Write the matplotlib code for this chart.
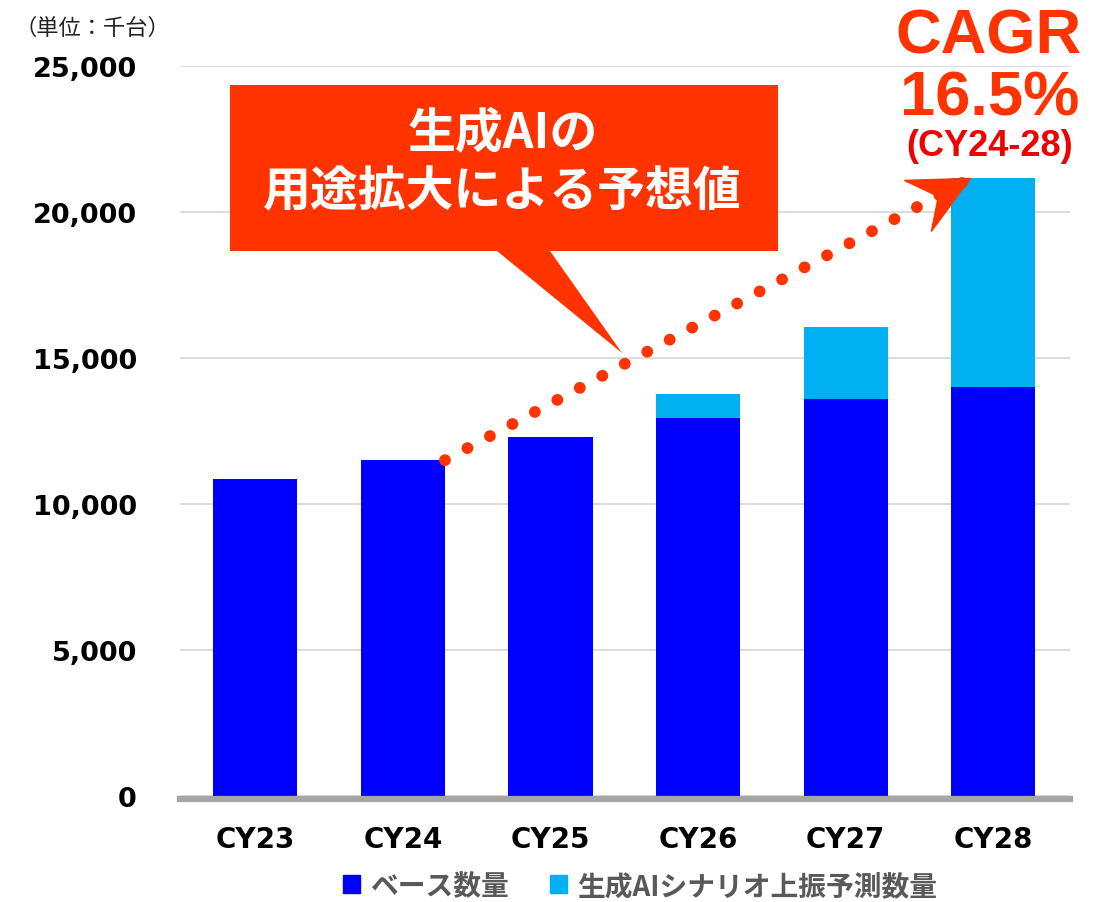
import numpy as np
import matplotlib
matplotlib.use('agg')
import matplotlib.pyplot as plt
from matplotlib.patches import Patch, Polygon
from matplotlib.font_manager import FontProperties

# data (千台)
years = ['CY23', 'CY24', 'CY25', 'CY26', 'CY27', 'CY28']
base = [10850, 11500, 12300, 12950, 13600, 14000]
upside = [0, 0, 0, 820, 2450, 7150]
yticks = [0, 5000, 10000, 15000, 20000, 25000]

BLUE = '#0000FF'
LIGHT = '#00B0F0'
RED = '#FF3300'
JP = 'Noto Sans CJK JP'

W, H = 1107, 903
fig = plt.figure(figsize=(W / 100, H / 100), dpi=100)
ax = fig.add_axes([180 / W, 1 - 797 / H, 890 / W, 730 / H])

x = np.arange(len(years))
bw = 0.57
total = np.array(base) + np.array(upside)
ax.bar(x, base, width=bw, color=BLUE, zorder=2)
ax.bar(x, upside, width=bw, bottom=base, color=LIGHT, zorder=2)

ax.set_xlim(-0.51, 5.52)
ax.set_ylim(0, 25000)
ax.set_yticks(yticks)
ax.set_yticklabels(['{:,}'.format(v) for v in yticks])
ax.set_xticks(x)
ax.set_xticklabels(years)
for s in ax.spines.values():
    s.set_visible(False)
ax.spines['bottom'].set_visible(True)
ax.spines['bottom'].set_color('#a6a6a6')
ax.spines['bottom'].set_linewidth(4.5)
ax.spines['bottom'].set_position(('outward', 2))
ax.spines['bottom'].set_zorder(3)
ax.grid(axis='y', color='#d9d9d9', linewidth=1.3, zorder=0)
ax.tick_params(axis='both', length=0)
ax.tick_params(axis='y', pad=31, labelsize=19.5)
ax.tick_params(axis='x', pad=19, labelsize=20)
for lab in ax.get_yticklabels() + ax.get_xticklabels():
    lab.set_fontweight('bold')
    lab.set_family('DejaVu Sans')

# dotted trend CY24 -> CY28
p0 = (1 + bw / 2, total[1])
p1 = (5 - bw / 2 + 0.13, total[5])
ax.plot([p0[0], p1[0]], [p0[1], p1[1]], color=RED, linewidth=8.5,
        linestyle=(0, (0.01, 2.15)), dash_capstyle='round', zorder=4, clip_on=False)

# swept arrow head at the tip (pixel offsets)
tx, ty = ax.transData.transform(p1)
head = np.array([[0, 0], [-66, -2], [-32, -18], [-39, -53]]) + [tx, ty]
fig.patches.append(Polygon(head, closed=True, color=RED, transform=None, zorder=5))

# callout box
pts = [(230, 86), (778, 86), (778, 252), (550, 252), (622, 354), (497, 252), (230, 252)]
fig.patches.append(Polygon([(px / W, 1 - py / H) for px, py in pts], closed=True,
                           facecolor=RED, edgecolor='none', transform=fig.transFigure, zorder=5))
fig.text(503 / W, 1 - 134 / H, '生成AIの', ha='center', va='center', color='white',
         fontsize=34.5, fontweight='bold', family=JP, zorder=6)
fig.text(502 / W, 1 - 192 / H, '用途拡大による予想値', ha='center', va='center', color='white',
         fontsize=34.5, fontweight='bold', family=JP, zorder=6)

# CAGR
fig.text(989 / W, 1 - 53 / H, 'CAGR', ha='center', va='baseline', color=RED,
         fontsize=45.5, fontweight='bold', family='Liberation Sans')
fig.text(990 / W, 1 - 115 / H, '16.5%', ha='center', va='baseline', color=RED,
         fontsize=45.5, fontweight='bold', family='Liberation Sans')
fig.text(990 / W, 1 - 156 / H, '(CY24-28)', ha='center', va='baseline', color='#F00000',
         fontsize=26, fontweight='bold', family='Liberation Sans')

# unit
fig.text(15 / W, 1 - 28 / H, '（単位：千台）', ha='left', va='center', color='#222222',
         fontsize=16, family=JP)

# legend
handles = [Patch(color=BLUE), Patch(color=LIGHT)]
fig.legend(handles, ['ベース数量', '生成AIシナリオ上振予測数量'], loc='center',
           bbox_to_anchor=(640 / W, 1 - 887 / H), ncol=2, frameon=False,
           handlelength=0.62, handleheight=0.62, handletextpad=0.36, columnspacing=1.5,
           prop=FontProperties(family=JP, weight='bold', size=20), labelcolor='#595959',
           borderpad=0, borderaxespad=0)

fig.savefig('out.png', dpi=100)
